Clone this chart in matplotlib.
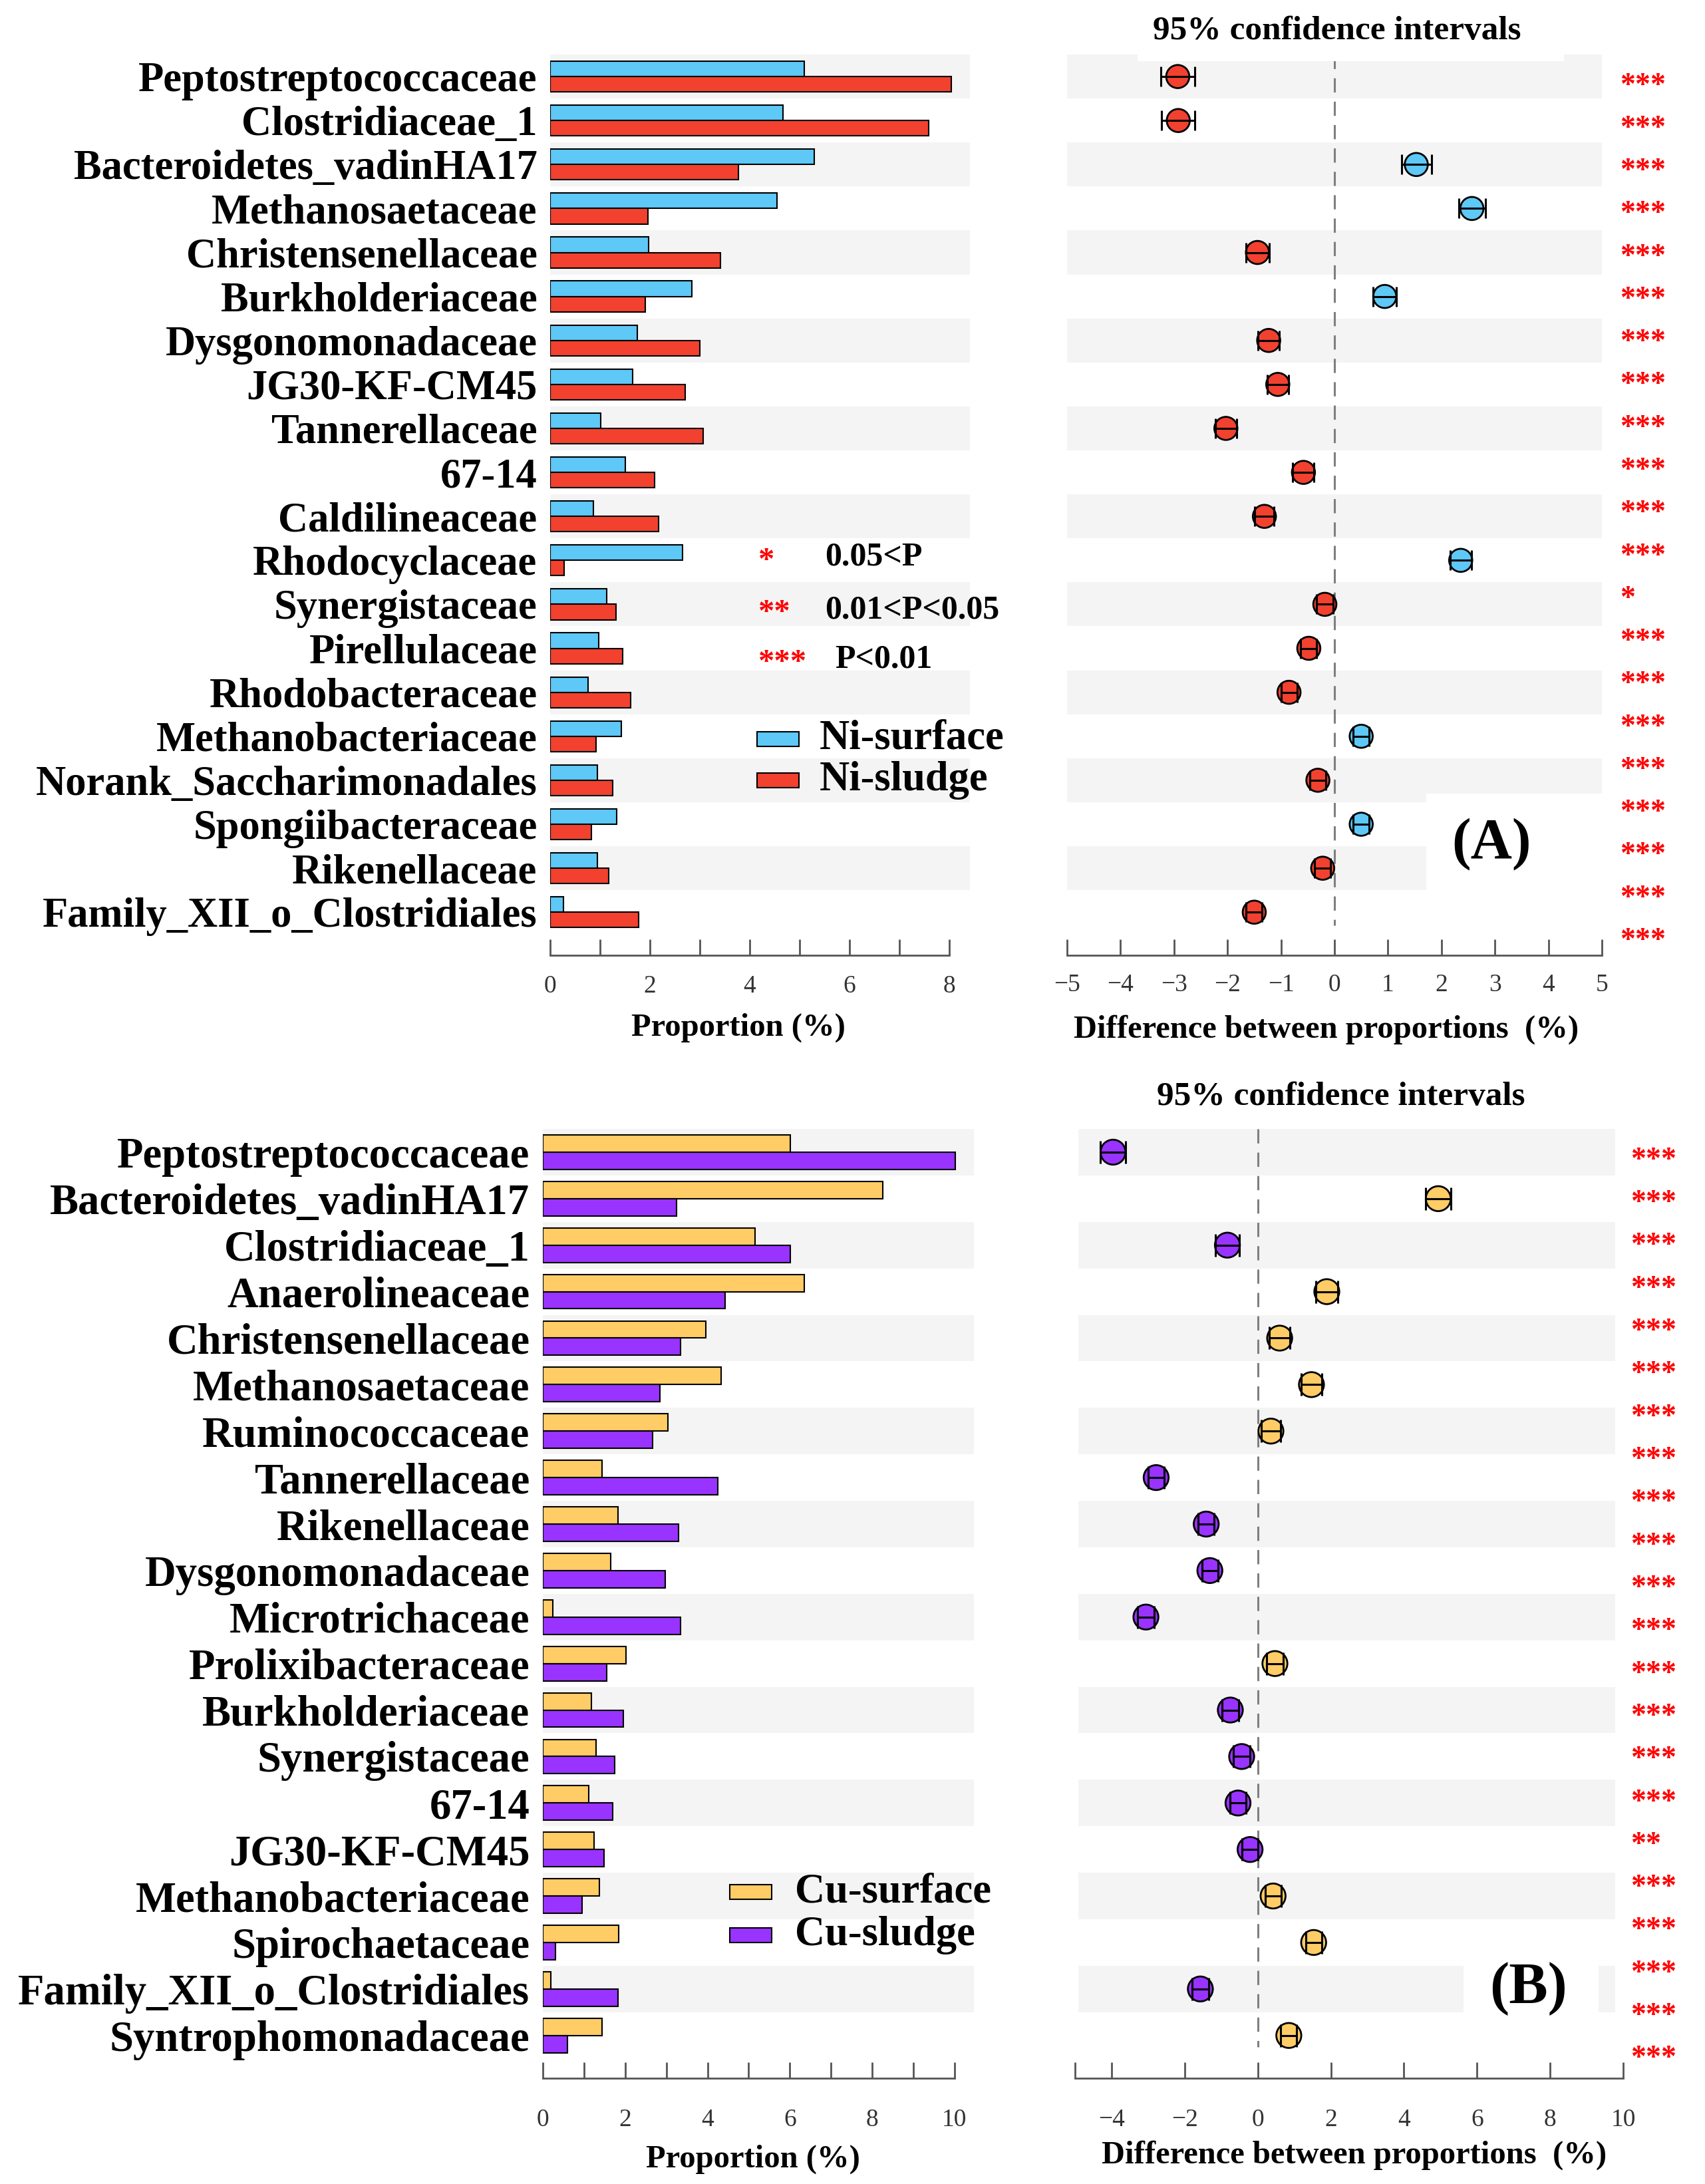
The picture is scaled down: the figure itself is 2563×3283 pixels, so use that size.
import numpy as np
import matplotlib
matplotlib.use('Agg')
import matplotlib.pyplot as plt
from matplotlib.patches import Rectangle
from matplotlib.textpath import TextPath
from matplotlib.font_manager import FontProperties
from matplotlib.transforms import offset_copy, blended_transform_factory

plt.rcParams['font.family'] = ['Liberation Serif', 'DejaVu Serif']

# ---------------- data: panel A ----------------
taxa_A = ["Peptostreptococcaceae", "Clostridiaceae_1", "Bacteroidetes_vadinHA17",
          "Methanosaetaceae", "Christensenellaceae", "Burkholderiaceae",
          "Dysgonomonadaceae", "JG30-KF-CM45", "Tannerellaceae", "67-14",
          "Caldilineaceae", "Rhodocyclaceae", "Synergistaceae", "Pirellulaceae",
          "Rhodobacteraceae", "Methanobacteriaceae", "Norank_Saccharimonadales",
          "Spongiibacteraceae", "Rikenellaceae", "Family_XII_o_Clostridiales"]
ni_surface = [5.10, 4.67, 5.30, 4.55, 1.97, 2.84, 1.75, 1.65, 1.02, 1.51,
              0.87, 2.65, 1.13, 0.97, 0.76, 1.43, 0.95, 1.33, 0.95, 0.27]
ni_sludge = [8.04, 7.59, 3.78, 1.96, 3.42, 1.91, 3.00, 2.71, 3.07, 2.09,
             2.18, 0.28, 1.32, 1.46, 1.61, 0.92, 1.25, 0.83, 1.17, 1.78]
diff_A = [-2.93, -2.92, 1.53, 2.57, -1.44, 0.94, -1.23, -1.06, -2.03, -0.58,
          -1.31, 2.36, -0.18, -0.48, -0.85, 0.50, -0.31, 0.50, -0.22, -1.50]
ci_A = [0.32, 0.31, 0.28, 0.25, 0.22, 0.22, 0.20, 0.20, 0.20, 0.20,
        0.18, 0.20, 0.15, 0.15, 0.15, 0.15, 0.15, 0.15, 0.15, 0.15]
sig_A = ['***'] * 12 + ['*'] + ['***'] * 8

# ---------------- data: panel B ----------------
taxa_B = ["Peptostreptococcaceae", "Bacteroidetes_vadinHA17", "Clostridiaceae_1",
          "Anaerolineaceae", "Christensenellaceae", "Methanosaetaceae",
          "Ruminococcaceae", "Tannerellaceae", "Rikenellaceae", "Dysgonomonadaceae",
          "Microtrichaceae", "Prolixibacteraceae", "Burkholderiaceae",
          "Synergistaceae", "67-14", "JG30-KF-CM45", "Methanobacteriaceae",
          "Spirochaetaceae", "Family_XII_o_Clostridiales", "Syntrophomonadaceae"]
cu_surface = [6.01, 8.25, 5.16, 6.35, 3.96, 4.33, 3.03, 1.43, 1.83, 1.65,
              0.25, 2.02, 1.18, 1.30, 1.12, 1.24, 1.37, 1.85, 0.20, 1.43]
cu_sludge = [10.02, 3.25, 6.01, 4.43, 3.34, 2.84, 2.66, 4.25, 3.29, 2.98,
             3.35, 1.55, 1.96, 1.75, 1.69, 1.48, 0.96, 0.31, 1.82, 0.59]
diff_B = [-3.96, 4.94, -0.83, 1.89, 0.60, 1.47, 0.36, -2.78, -1.41, -1.31,
          -3.06, 0.47, -0.75, -0.44, -0.54, -0.21, 0.42, 1.53, -1.57, 0.85]
ci_B = [0.35, 0.34, 0.32, 0.30, 0.28, 0.28, 0.26, 0.22, 0.22, 0.22,
        0.22, 0.22, 0.22, 0.22, 0.22, 0.22, 0.22, 0.22, 0.22, 0.22]
sig_B = ['***'] * 16 + ['**'] + ['***'] * 5

# ---------------- style ----------------
W, H, DPI = 2563, 3283, 100
BLUE, RED = '#5EC8F7', '#F2412F'
ORANGE, PURPLE = '#FFCC66', '#9933FF'
BAND = '#F4F4F4'
SPINE = '#555555'
TICKLBL = '#333333'

fig = plt.figure(figsize=(W / DPI, H / DPI), dpi=DPI, facecolor='white')


def add_ax(left, right, top, bottom):
    return fig.add_axes([left / W, 1 - bottom / H, (right - left) / W, (bottom - top) / H])


def fxy(x, y):
    return x / W, 1 - y / H


def star_text(transform_base, x, y, s, fs, **kw):
    fp = FontProperties(family='Liberation Serif', weight='bold', size=fs)
    ext = TextPath((0, 0), '*', size=fs, prop=fp).get_extents()
    cy = (ext.y0 + ext.y1) / 2.0
    tr = offset_copy(transform_base, fig=fig, y=-cy, units='points')
    return fig.text(x, y, s, transform=tr, fontsize=fs, fontweight='bold',
                    color='red', ha='left', va='baseline', **kw)


def bar_panel(ax, taxa, s1, s2, c1, c2, xmax, tmax, ylow, bar_h, lab_fs, xpad):
    n = len(taxa)
    y = np.arange(n)
    for i in range(0, n, 2):
        ax.axhspan(i - 0.5, i + 0.5, color=BAND, lw=0, zorder=0)
    ax.barh(y - bar_h / 2, s1, height=bar_h, color=c1, edgecolor='black', lw=1.5, zorder=2)
    ax.barh(y + bar_h / 2, s2, height=bar_h, color=c2, edgecolor='black', lw=1.5, zorder=2)
    ax.set_xlim(0, xmax)
    ax.set_ylim(ylow, -0.5)
    ax.set_yticks(y)
    ax.set_yticklabels(taxa, fontsize=lab_fs, fontweight='bold')
    ax.tick_params(axis='y', length=0, pad=14)
    for sp in ('top', 'right', 'left'):
        ax.spines[sp].set_visible(False)
    ax.spines['bottom'].set_bounds(0, tmax)
    ax.spines['bottom'].set_color(SPINE)
    ax.spines['bottom'].set_linewidth(2)
    ax.set_xticks(np.arange(0, tmax + 1, 2))
    ax.set_xticks(np.arange(0, tmax + 1, 1), minor=True)
    ax.tick_params(axis='x', which='both', direction='in', length=17, width=2,
                   color=SPINE, labelcolor=TICKLBL, labelsize=27, pad=xpad)
    ax.set_facecolor('none')


def ci_panel(ax, diff, ci, cpos, cneg, xlim, ticks, mticks, ylow, ms, capsize,
             band_x=(0, 1), dash_end=19.3):
    n = len(diff)
    y = np.arange(n)
    for i in range(0, n, 2):
        ax.axhspan(i - 0.5, i + 0.5, xmin=band_x[0], xmax=band_x[1], color=BAND, lw=0, zorder=0)
    ax.vlines(0, -0.5, dash_end, colors='#7F7F7F', linestyles=(0, (7, 4.5)), lw=2.2, zorder=1)
    cols = [cpos if d > 0 else cneg for d in diff]
    ax.scatter(diff, y, s=ms ** 2, c=cols, edgecolors='black', linewidths=2, zorder=3)
    ax.errorbar(diff, y, xerr=ci, fmt='none', ecolor='black', elinewidth=2.2,
                capsize=capsize, capthick=2.2, zorder=4)
    ax.set_xlim(*xlim)
    ax.set_ylim(ylow, -0.5)
    ax.set_yticks([])
    for sp in ('top', 'right', 'left'):
        ax.spines[sp].set_visible(False)
    ax.spines['bottom'].set_color(SPINE)
    ax.spines['bottom'].set_linewidth(2)
    ax.set_xticks(ticks)
    ax.set_xticks(mticks, minor=True)
    ax.set_facecolor('none')


# ---------------- panel A ----------------
axA1 = add_ax(827, 1458, 82, 1436)
bar_panel(axA1, taxa_A, ni_surface, ni_sludge, BLUE, RED, 8.42, 8, 19.98, 0.35, 45, 21)

axA2 = add_ax(1604, 2408, 82, 1436)
ci_panel(axA2, diff_A, ci_A, BLUE, RED, (-5, 5), np.arange(-5, 6, 1), [], 19.98, 25, 11)
axA2.tick_params(axis='x', which='both', direction='in', length=17, width=2,
                 color=SPINE, labelcolor=TICKLBL, labelsize=27, pad=20)
axA2.add_patch(Rectangle((1.72, 16.3), 3.28, 2.2, facecolor='white', edgecolor='none', zorder=1.5))
axA2.text(2.93, 17.45, '(A)', fontsize=62, fontweight='bold', ha='center', va='center', zorder=5)

trA = blended_transform_factory(axA2.transAxes, axA2.transData)
for k, s in enumerate(sig_A):
    yy = 0.06 + k * (19.5 - 0.06) / (len(sig_A) - 1)
    star_text(trA, 1.034, yy, s, 33)

# title white box and title
fig.add_artist(Rectangle(fxy(1710, 92), (2351 - 1710) / W, 92 / H,
                         transform=fig.transFigure, facecolor='white', edgecolor='none', zorder=1))
fig.text(*fxy(2010, 47), '95% confidence intervals', fontsize=37, fontweight='bold',
         ha='center', va='center')
fig.text(*fxy(1110, 1545), 'Proportion (%)', fontsize=35, fontweight='bold', ha='center', va='center')
fig.text(*fxy(1994, 1548), 'Difference between proportions  (%)', fontsize=35, fontweight='bold',
         ha='center', va='center')

# significance legend
ident = fig.transFigure
for s, ty, lab, lx, ly in [('*', 833, '0.05<P', 1240, 838),
                           ('**', 911, '0.01<P<0.05', 1240, 918),
                           ('***', 986, 'P<0.01', 1255, 991)]:
    star_text(ident, *fxy(1140, ty), s, 35)
    fig.text(*fxy(lx, ly), lab, fontsize=36, fontweight='bold', ha='left', va='center')

# colour legend A
for col, lab, yc in [(BLUE, 'Ni-surface', 1111), (RED, 'Ni-sludge', 1173)]:
    fig.add_artist(Rectangle(fxy(1138, yc + 11), 63 / W, 22 / H, transform=fig.transFigure,
                             facecolor=col, edgecolor='black', lw=1.5))
    fig.text(*fxy(1232, yc), lab, fontsize=45, fontweight='bold', ha='left', va='center')

# ---------------- panel B ----------------
axB1 = add_ax(816, 1464, 1697, 3124)
bar_panel(axB1, taxa_B, cu_surface, cu_sludge, ORANGE, PURPLE, 10.47, 10, 19.92, 0.37, 46.5, 33)

axB2 = add_ax(1616, 2440, 1697, 3124)
ci_panel(axB2, diff_B, ci_B, ORANGE, PURPLE, (-5, 10), np.arange(-4, 11, 2), [-5], 19.92, 27, 12,
         band_x=(0.006, 0.986), dash_end=19.25)
axB2.tick_params(axis='x', which='both', direction='in', length=17, width=2,
                 color=SPINE, labelcolor=TICKLBL, labelsize=27, pad=33)
axB2.add_patch(Rectangle((5.63, 17.5), 3.7, 1.0, facecolor='white', edgecolor='none', zorder=1.5))
axB2.text(7.4, 18.0, '(B)', fontsize=63, fontweight='bold', ha='center', va='center', zorder=5)

trB = blended_transform_factory(axB2.transAxes, axB2.transData)
for k, s in enumerate(sig_B):
    yy = 0.03 + k * (19.36 - 0.03) / (len(sig_B) - 1)
    star_text(trB, 1.014, yy, s, 33)

fig.text(*fxy(2016, 1649), '95% confidence intervals', fontsize=37, fontweight='bold',
         ha='center', va='center')
fig.text(*fxy(1132, 3246), 'Proportion (%)', fontsize=35, fontweight='bold', ha='center', va='center')
fig.text(*fxy(2036, 3240), 'Difference between proportions  (%)', fontsize=35, fontweight='bold',
         ha='center', va='center')

for col, lab, yc in [(ORANGE, 'Cu-surface', 2844), (PURPLE, 'Cu-sludge', 2909)]:
    fig.add_artist(Rectangle(fxy(1097, yc + 11), 63 / W, 22 / H, transform=fig.transFigure,
                             facecolor=col, edgecolor='black', lw=1.5))
    fig.text(*fxy(1195, yc), lab, fontsize=45, fontweight='bold', ha='left', va='center')

fig.savefig('out.png', dpi=DPI, facecolor='white')
